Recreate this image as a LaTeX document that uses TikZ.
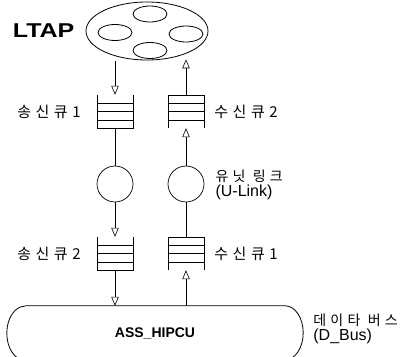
\documentclass[tikz,border=0pt]{standalone}
\usepackage{fontspec}
\setmainfont{Liberation Sans}
\newfontfamily\kr{Noto Sans CJK KR}
\usetikzlibrary{positioning,calc,arrows.meta,shapes.geometric}

\begin{document}
\begin{tikzpicture}
        [x=1pt,y=1pt,
        every node/.style={inner sep=0pt},
        line/.style={line width=0.6pt},
        qline/.style={line width=0.5pt},
        arr/.style={line width=0.6pt, -{Triangle[open,length=9pt,width=7.5pt]}},
        queue/.style={minimum width=36pt, minimum height=33pt},
        cir/.style={circle, draw, line width=0.7pt, minimum size=36pt},
        blob/.style={ellipse, draw, line width=0.8pt, minimum width=34pt, minimum height=16pt},
        qlabel/.style={font=\kr\addfontfeature{LetterSpace=30}\fontsize{15}{16}\selectfont},
        nlabel/.style={align=left, font=\fontsize{16}{15}\selectfont},
        ]
        \useasboundingbox (0,0) rectangle (420,356);
        % LTAP
        \node[ellipse, draw, line width=0.8pt, minimum width=122pt, minimum height=58pt] (ltap) at (147,325) {};
        \node[blob] (b1) at (150,342) {};
        \node[blob] (b2) at (115,323.5) {};
        \node[blob] (b3) at (186,322) {};
        \node[blob] (b4) at (150,305.5) {};
        \node[left=11pt of ltap, font=\bfseries\fontsize{20}{20}\selectfont] (ltaplab) {\scalebox{1.25}[1]{LTAP}};
        % queues and links
        \node[queue] (sq1) at (115,244.5) {};
        \node[queue] (rq2) at (186,244.5) {};
        \node[cir] (c1) at (115,172) {};
        \node[cir] (c2) at (186,172) {};
        \node[queue] (sq2) at (115,102.5) {};
        \node[queue] (rq1) at (186,102.5) {};
        \foreach \q in {sq1,sq2} {
          \draw[qline] (\q.north west) -- (\q.south west) -- (\q.south east) -- (\q.north east);
          \foreach \f in {0.25,0.5,0.75}
            \draw[qline] ($(\q.south west)!\f!(\q.north west)$) -- ($(\q.south east)!\f!(\q.north east)$);
        }
        \foreach \q in {rq1,rq2} {
          \draw[qline] (\q.south west) -- (\q.north west) -- (\q.north east) -- (\q.south east);
          \foreach \f in {0.25,0.5,0.75}
            \draw[qline] ($(\q.north west)!\f!(\q.south west)$) -- ($(\q.north east)!\f!(\q.south east)$);
        }
        \node[qlabel, left=16pt of sq1] (sq1lab) {송신큐1};
        \node[qlabel, right=10pt of rq2] (rq2lab) {수신큐2};
        \node[qlabel, left=16pt of sq2] (sq2lab) {송신큐2};
        \node[qlabel, right=10pt of rq1] (rq1lab) {수신큐1};
        \node[nlabel, right=11pt of c2, yshift=-1pt] (ulink) {{\kr\addfontfeature{LetterSpace=30}\fontsize{14}{15}\selectfont 유닛 링크}\\(U-Link)};
        % bus
        \node[minimum width=296pt, minimum height=54pt, font=\bfseries\fontsize{14}{14}\selectfont] (bus) at (155,23) {ASS\_HIPCU};
        \draw[line width=0.8pt] ([xshift=18pt]bus.north west) -- ([xshift=-18pt]bus.north east)
          arc[start angle=90, end angle=-90, x radius=18pt, y radius=27pt]
          -- ([xshift=18pt]bus.south west)
          arc[start angle=270, end angle=90, x radius=18pt, y radius=27pt];
        \node[nlabel, right=10pt of bus, yshift=4pt] (dbus) {{\kr\addfontfeature{LetterSpace=30}\fontsize{14}{15}\selectfont 데이타 버스}\\(D\_Bus)};
        % connectors
        \draw[arr, shorten <=5pt] (sq1.north |- ltap.216) -- (sq1.north);
        \draw[line] (sq1.south) -- (c1.north);
        \draw[arr] (c1.south) -- (sq2.north);
        \draw[arr] (sq2.south) -- (sq2.south |- bus.north);
        \draw[arr] (rq1.south |- bus.north) -- (rq1.south);
        \draw[line] (rq1.north) -- (c2.south);
        \draw[arr] (c2.north) -- (rq2.south);
        \draw[arr, shorten >=5pt] (rq2.north) -- (rq2.north |- ltap.-32);
\end{tikzpicture}
\end{document}
